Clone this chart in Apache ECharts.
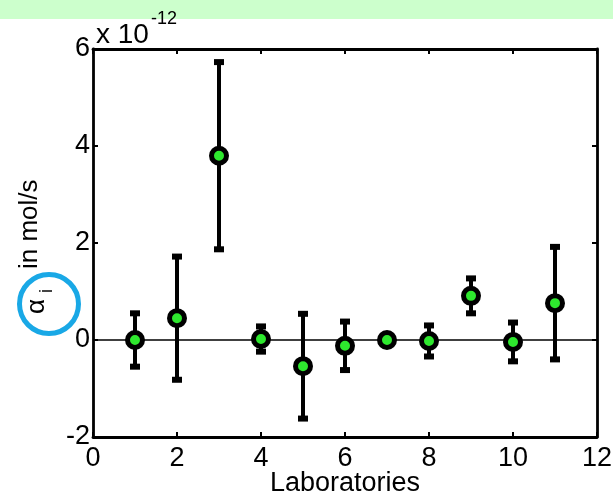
<!DOCTYPE html>
<html>
<head>
<meta charset="utf-8">
<script src="https://cdn.jsdelivr.net/npm/echarts@6/dist/echarts.min.js"></script>
<style>
html,body{margin:0;padding:0;background:#fff;}
#chart{width:613px;height:494px;}
</style>
</head>
<body>
<div id="chart"></div>
<script>
// Data (alpha_i in units of 1e-12 mol/s)
var laboratories = [1, 2, 3, 4, 5, 6, 7, 8, 9, 10, 11];
var alphaValues  = [0.0, 0.45, 3.80, 0.02, -0.54, -0.12, 0.0, -0.02, 0.91, -0.04, 0.76];
var alphaErrors  = [0.55, 1.27, 1.93, 0.26, 1.08, 0.50, 0.08, 0.32, 0.36, 0.40, 1.16];
var xTicks = [0, 2, 4, 6, 8, 10, 12];
var yTicks = [-2, 0, 2, 4, 6];

var FONT = "'Liberation Sans', Arial, Helvetica, sans-serif";
var chart = echarts.init(document.getElementById('chart'), null, {renderer: 'canvas'});

var errData = laboratories.map(function (l, i) { return [l, alphaValues[i], alphaErrors[i]]; });
var ptData = laboratories.map(function (l, i) { return [l, alphaValues[i]]; });

var axisLineStyle = {color: '#000', width: 2.8};
var tickStyle = {color: '#000', width: 2};

var option = {
  animation: false,
  backgroundColor: '#fff',
  grid: {left: 93, top: 49, right: 16, bottom: 57, containLabel: false, outerBoundsMode: 'none',
         show: false},
  xAxis: [{
    type: 'value', min: xTicks[0], max: xTicks[xTicks.length - 1], interval: 2, position: 'bottom',
    splitLine: {show: false},
    axisLine: {show: true, onZero: false, lineStyle: axisLineStyle},
    axisTick: {show: true, inside: true, length: 5, lineStyle: tickStyle},
    axisLabel: {show: true, color: '#000', fontSize: 27, fontFamily: FONT, margin: 8},
    name: 'Laboratories', nameLocation: 'middle', nameGap: 33, nameMoveOverlap: false,
    nameTextStyle: {color: '#000', fontSize: 27, fontFamily: FONT}
  }, {
    type: 'value', min: xTicks[0], max: xTicks[xTicks.length - 1], interval: 2, position: 'top',
    splitLine: {show: false},
    axisLine: {show: true, onZero: false, lineStyle: axisLineStyle},
    axisTick: {show: true, inside: true, length: 5, lineStyle: tickStyle},
    axisLabel: {show: false}
  }],
  yAxis: [{
    type: 'value', min: yTicks[0], max: yTicks[yTicks.length - 1], interval: 2, position: 'left',
    splitLine: {show: false},
    axisLine: {show: true, onZero: false, lineStyle: axisLineStyle},
    axisTick: {show: true, inside: true, length: 5, lineStyle: tickStyle},
    axisLabel: {show: true, color: '#000', fontSize: 27, fontFamily: FONT, margin: 3}
  }, {
    type: 'value', min: yTicks[0], max: yTicks[yTicks.length - 1], interval: 2, position: 'right',
    splitLine: {show: false},
    axisLine: {show: true, onZero: false, lineStyle: axisLineStyle},
    axisTick: {show: true, inside: true, length: 5, lineStyle: tickStyle},
    axisLabel: {show: false}
  }],
  series: [{
    type: 'custom',
    z: 2,
    xAxisIndex: 0, yAxisIndex: 0,
    data: errData,
    renderItem: function (params, api) {
      var x = api.value(0), y = api.value(1), e = api.value(2);
      var top = api.coord([x, y + e]);
      var bot = api.coord([x, y - e]);
      var capW = 10, capH = 6;
      return {
        type: 'group',
        children: [
          {type: 'line', shape: {x1: top[0], y1: top[1], x2: bot[0], y2: bot[1]},
           style: {stroke: '#000', lineWidth: 4}},
          {type: 'rect', shape: {x: top[0] - capW / 2, y: top[1] - capH / 2, width: capW, height: capH},
           style: {fill: '#000'}},
          {type: 'rect', shape: {x: bot[0] - capW / 2, y: bot[1] - capH / 2, width: capW, height: capH},
           style: {fill: '#000'}}
        ]
      };
    },
    markLine: {
      silent: true, symbol: 'none', z: 1,
      label: {show: false},
      lineStyle: {color: '#000', width: 1.5, type: 'solid'},
      data: [{yAxis: 0}]
    }
  }, {
    type: 'scatter',
    z: 3,
    xAxisIndex: 0, yAxisIndex: 0,
    data: ptData,
    symbol: 'circle',
    symbolSize: 15,
    itemStyle: {color: '#2ee82e', borderColor: '#000', borderWidth: 5, opacity: 1}
  }],
  graphic: [
    {type: 'rect', left: 0, top: 0, shape: {width: 613, height: 19}, style: {fill: '#ccffcc'}, z: 0},
    {type: 'text', x: 96, y: 35, style: {text: 'x 10', fontSize: 28, fontFamily: FONT, fill: '#000',
      textVerticalAlign: 'middle', textAlign: 'left'}},
    {type: 'text', x: 151, y: 19, style: {text: '-12', fontSize: 18, fontFamily: FONT, fill: '#000',
      textVerticalAlign: 'middle', textAlign: 'left'}},
    {type: 'text', x: 37, y: 314, rotation: Math.PI / 2,
      style: {text: 'α', fontSize: 26, fontFamily: FONT, fill: '#000', textVerticalAlign: 'middle', textAlign: 'left'}},
    {type: 'text', x: 47, y: 293, rotation: Math.PI / 2,
      style: {text: 'i', fontSize: 18, fontFamily: FONT, fill: '#000', textVerticalAlign: 'middle', textAlign: 'left'}},
    {type: 'text', x: 30, y: 269, rotation: Math.PI / 2,
      style: {text: 'in mol/s', fontSize: 26, fontFamily: FONT, fill: '#000', textVerticalAlign: 'middle', textAlign: 'left'}},
    {type: 'circle', shape: {cx: 49, cy: 304, r: 29.5}, style: {fill: 'none', stroke: '#19a8e6', lineWidth: 5}, z: 10}
  ]
};
chart.setOption(option);
</script>
</body>
</html>
